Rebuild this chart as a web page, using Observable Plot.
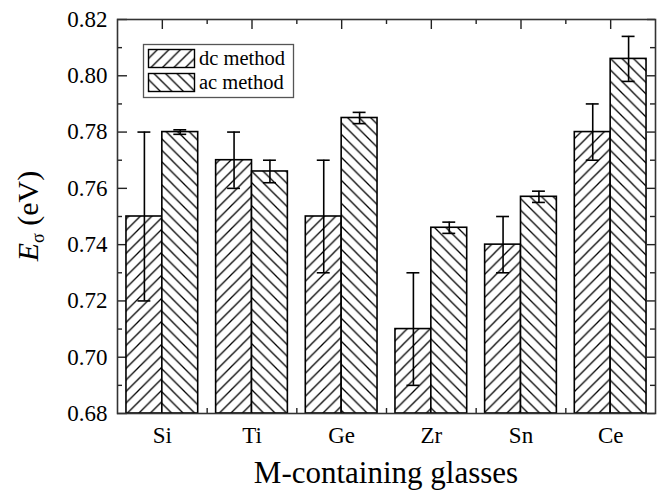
<!DOCTYPE html>
<html><head><meta charset="utf-8">
<script src="https://cdn.jsdelivr.net/npm/d3@7"></script>
<script src="https://cdn.jsdelivr.net/npm/@observablehq/plot@0.6"></script>
<style>body{margin:0;background:#fff}</style>
</head><body><div id="chart"></div>
<script>
// ---- data ----
const elements = ["Si", "Ti", "Ge", "Zr", "Sn", "Ce"];
const methods = ["dc method", "ac method"];
const dcValues = [0.750, 0.770, 0.750, 0.710, 0.740, 0.780];
const dcErrors = [0.030, 0.010, 0.020, 0.020, 0.010, 0.010];
const acValues = [0.780, 0.766, 0.785, 0.746, 0.757, 0.806];
const acErrors = [0.0008, 0.004, 0.002, 0.002, 0.002, 0.008];
const yTicks = [0.68, 0.70, 0.72, 0.74, 0.76, 0.78, 0.80, 0.82];
const yMinorTicks = [0.69, 0.71, 0.73, 0.75, 0.77, 0.79, 0.81];
const yDomain = [0.68, 0.82];
const xTitle = "M-containing glasses";

// ---- layout / style ----
const W = 661, H = 492;
const mL = 117, mR = 6, mT = 19, mB = 79;
const frameW = W - mL - mR, frameH = H - mT - mB;
const half = 0.4;      // each bar's width in category units
const capHalf = 0.072; // half width of error-bar caps
const font = "'Liberation Serif', 'Times New Roman', serif";
const tickFont = "23px";

const idx = elements.map((_, i) => i);
const boundaries = elements.slice(1).map((_, i) => i + 0.5);
const dcRows = elements.map((e, i) => ({i, element: e, method: methods[0], value: dcValues[i], err: dcErrors[i]}));
const acRows = elements.map((e, i) => ({i, element: e, method: methods[1], value: acValues[i], err: acErrors[i]}));
const dcCenter = d => d.i - half / 2;
const acCenter = d => d.i + half / 2;

const tickStyle = {stroke: "#222", strokeWidth: 1.4};
const errStyle = {stroke: "#000", strokeWidth: 1.6};

function errorMarks(rows, center) {
  return [
    Plot.ruleX(rows, {x: center, y1: d => d.value - d.err, y2: d => d.value + d.err, ...errStyle}),
    Plot.ruleY(rows, {y: d => d.value + d.err, x1: d => center(d) - capHalf, x2: d => center(d) + capHalf, ...errStyle}),
    Plot.ruleY(rows, {y: d => d.value - d.err, x1: d => center(d) - capHalf, x2: d => center(d) + capHalf, ...errStyle})
  ];
}

const chart = Plot.plot({
  width: W, height: H,
  marginLeft: mL, marginRight: mR, marginTop: mT, marginBottom: mB,
  style: {fontFamily: font, fontSize: tickFont, color: "#000", background: "#fff"},
  x: {type: "linear", domain: [-0.5, elements.length - 0.5], ticks: idx, tickFormat: i => elements[i], tickSize: 0, tickPadding: 13, label: null},
  y: {domain: yDomain, ticks: yTicks, tickFormat: d3.format(".2f"), tickSize: 0, tickPadding: 10, label: null},
  marks: [
    // inward ticks
    Plot.tickY(yTicks, {y: d => d, insetRight: frameW - 10, ...tickStyle}),
    Plot.tickY(yMinorTicks, {y: d => d, insetRight: frameW - 5, ...tickStyle}),
    Plot.tickY(yTicks, {y: d => d, insetLeft: frameW - 8, ...tickStyle}),
    Plot.tickY(yMinorTicks, {y: d => d, insetLeft: frameW - 5, ...tickStyle}),
    Plot.tickX(idx, {x: d => d, insetBottom: frameH - 10, ...tickStyle}),
    Plot.tickX(boundaries, {x: d => d, insetBottom: frameH - 5, ...tickStyle}),
    Plot.tickX(idx, {x: d => d, insetTop: frameH - 10, ...tickStyle}),
    Plot.tickX(boundaries, {x: d => d, insetTop: frameH - 5, ...tickStyle}),
    // bars
    Plot.rect(dcRows, {x1: d => d.i - half, x2: d => d.i, y1: yDomain[0], y2: "value", fill: "url(#hatch-dc)", stroke: "#000", strokeWidth: 1.6}),
    Plot.rect(acRows, {x1: d => d.i, x2: d => d.i + half, y1: yDomain[0], y2: "value", fill: "url(#hatch-ac)", stroke: "#000", strokeWidth: 1.6}),
    ...errorMarks(dcRows, dcCenter),
    ...errorMarks(acRows, acCenter),
    Plot.frame({stroke: "#333", strokeWidth: 1.6})
  ]
});
document.getElementById("chart").appendChild(chart);
const svg = d3.select(chart.tagName.toLowerCase() === "svg" ? chart : chart.querySelector("svg"));

// make sure the axis tick labels use the large serif font
svg.selectAll('g[aria-label*="axis"] text, g[aria-label*="tick label"] text')
  .style("font-size", tickFont).style("font-family", font).attr("fill", "#000");

// hatch patterns
const defs = svg.insert("defs", ":first-child");
function hatch(id, dir) {
  const s = 11.5;
  const p = defs.append("pattern").attr("id", id).attr("patternUnits", "userSpaceOnUse")
    .attr("width", s).attr("height", s);
  p.append("rect").attr("width", s).attr("height", s).attr("fill", "#fff");
  const d = dir === "/"
    ? `M0,${s} L${s},0 M-2,2 L2,-2 M${s - 2},${s + 2} L${s + 2},${s - 2}`
    : `M0,0 L${s},${s} M-2,${s - 2} L2,${s + 2} M${s - 2},-2 L${s + 2},2`;
  p.append("path").attr("d", d).attr("stroke", "#000").attr("stroke-width", 1.3).attr("fill", "none");
}
hatch("hatch-dc", "/");
hatch("hatch-ac", "\\");

// y title: E_σ (eV)
const yt = svg.append("text")
  .attr("transform", `translate(38,${mT + frameH / 2}) rotate(-90)`)
  .attr("text-anchor", "middle").attr("fill", "#000")
  .style("font-family", font).style("font-size", "30px");
yt.append("tspan").attr("font-style", "italic").text("E");
yt.append("tspan").attr("font-size", "18px").attr("dy", 6).text("σ");
yt.append("tspan").attr("dy", -6).text(" (eV)");

// x title
svg.append("text").attr("x", mL + frameW / 2).attr("y", 483)
  .attr("text-anchor", "middle").attr("fill", "#000")
  .style("font-family", font).style("font-size", "31px").text(xTitle);

// legend
const lg = svg.append("g").attr("text-anchor", "start")
  .style("font-family", font).style("font-size", "20.5px");
lg.append("rect").attr("x", 143.5).attr("y", 44.5).attr("width", 150).attr("height", 53)
  .attr("fill", "#fff").attr("stroke", "#555").attr("stroke-width", 1.3);
[["hatch-dc", methods[0]], ["hatch-ac", methods[1]]].forEach(([id, label], k) => {
  const y0 = 49.5 + k * 24;
  lg.append("rect").attr("x", 148.5).attr("y", y0).attr("width", 46).attr("height", 18)
    .attr("fill", `url(#${id})`).attr("stroke", "#000").attr("stroke-width", 1.4);
  lg.append("text").attr("x", 199).attr("y", y0 + 15.5).attr("text-anchor", "start")
    .attr("fill", "#000").style("font-size", "20.5px").text(label);
});
</script>
</body></html>
